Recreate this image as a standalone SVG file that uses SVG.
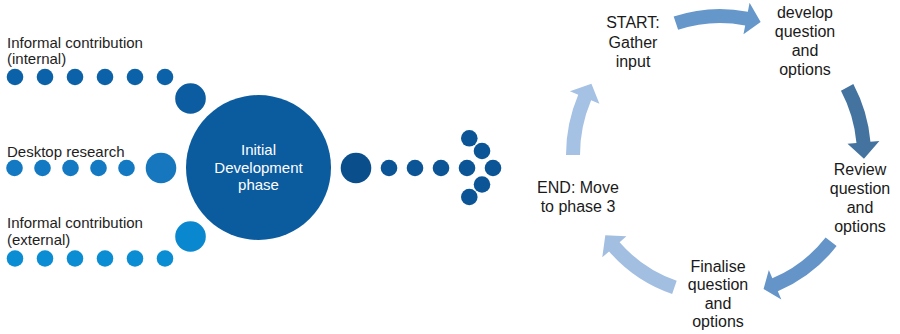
<svg xmlns="http://www.w3.org/2000/svg" width="900" height="334" viewBox="0 0 900 334">
<style>
.lbl{font-family:"Liberation Sans",Arial,sans-serif;font-size:15px;fill:#1e1e1e}
.ctr{font-family:"Liberation Sans",Arial,sans-serif;font-size:15px;fill:#ffffff;text-anchor:middle}
.cyc{font-family:"Liberation Sans",Arial,sans-serif;font-size:16px;fill:#1a1a1a;text-anchor:middle}
.r1{fill:#0c62a8}
.r2{fill:#1279c2}
.r3{fill:#0b8dd3}
.ar{fill:#0b5596}
</style>
<rect width="900" height="334" fill="#ffffff"/>
<g id="input-internal">
<text class="lbl" x="7" y="48">Informal contribution</text>
<text class="lbl" x="7" y="64">(internal)</text>
<circle class="r1" cx="15" cy="77" r="8.3"/>
<circle class="r1" cx="45" cy="77" r="8.3"/>
<circle class="r1" cx="75" cy="77" r="8.3"/>
<circle class="r1" cx="105" cy="77" r="8.3"/>
<circle class="r1" cx="135" cy="77" r="8.3"/>
<circle class="r1" cx="165" cy="77" r="8.3"/>
<circle fill="#0b5ca0" cx="190.5" cy="98.5" r="15.3"/>
</g>
<g id="input-desktop">
<text class="lbl" x="7" y="157">Desktop research</text>
<circle class="r2" cx="14.5" cy="168" r="8.3"/>
<circle class="r2" cx="42.5" cy="168" r="8.3"/>
<circle class="r2" cx="70.5" cy="168" r="8.3"/>
<circle class="r2" cx="98.5" cy="168" r="8.3"/>
<circle class="r2" cx="126.5" cy="168" r="8.3"/>
<circle fill="#1677be" cx="161" cy="168" r="15.3"/>
</g>
<g id="input-external">
<text class="lbl" x="7" y="228">Informal contribution</text>
<text class="lbl" x="7" y="245">(external)</text>
<circle class="r3" cx="15" cy="258.5" r="8.3"/>
<circle class="r3" cx="45" cy="258.5" r="8.3"/>
<circle class="r3" cx="75" cy="258.5" r="8.3"/>
<circle class="r3" cx="105" cy="258.5" r="8.3"/>
<circle class="r3" cx="135" cy="258.5" r="8.3"/>
<circle class="r3" cx="165" cy="258.5" r="8.3"/>
<circle fill="#0a88cf" cx="190.5" cy="236.5" r="15.3"/>
</g>
<g id="initial-development">
<circle fill="#0b5b9f" cx="258.5" cy="167.5" r="72.5"/>
<text class="ctr" x="258.5" y="155">Initial</text>
<text class="ctr" x="258.5" y="173">Development</text>
<text class="ctr" x="258.5" y="190">phase</text>
</g>
<g id="output-arrow">
<circle fill="#0a4f8b" cx="356" cy="168" r="15.3"/>
<circle class="ar" cx="389" cy="168" r="8.3"/>
<circle class="ar" cx="415" cy="168" r="8.3"/>
<circle class="ar" cx="441" cy="168" r="8.3"/>
<circle class="ar" cx="467" cy="168" r="8.3"/>
<circle class="ar" cx="493" cy="168" r="8.3"/>
<circle class="ar" cx="469.3" cy="138.3" r="8.3"/>
<circle class="ar" cx="482" cy="151" r="8.3"/>
<circle class="ar" cx="482" cy="184.5" r="8.3"/>
<circle class="ar" cx="469.3" cy="197" r="8.3"/>
</g>
<g id="cycle-connectors">
<path fill="#6697cb" d="M673.67,16.55 A146,146 0 0,1 747.86,11.69 L749.57,2.85 L760.64,22.07 L743.47,34.26 L745.19,25.43 A132,132 0 0,0 678.12,29.82 Z"/>
<path fill="#44739f" d="M853.32,84.1 A151,151 0 0,1 870.43,141.84 L879.39,141.05 L863.95,158.77 L847.51,143.84 L856.48,143.06 A137,137 0 0,0 840.96,90.68 Z"/>
<path fill="#6594c8" d="M836.62,246.12 A148,148 0 0,1 777.82,291.23 L781.34,299.52 L763.57,289.10 L768.84,270.06 L772.35,278.35 A134,134 0 0,0 825.59,237.50 Z"/>
<path fill="#a2bfe2" d="M672.14,293.99 A147,147 0 0,1 609.06,251.45 L602.27,257.35 L605.31,235.30 L626.42,236.36 L619.62,242.26 A133,133 0 0,0 676.70,280.75 Z"/>
<path fill="#a5c1e4" d="M566,155 A154,154 0 0,1 578.24,94.83 L569.96,91.32 L591.43,83.73 L599.41,103.82 L591.13,100.30 A140,140 0 0,0 580,155 Z"/>
</g>
<g id="start">
<text class="cyc" x="633" y="28">START:</text>
<text class="cyc" x="633" y="48">Gather</text>
<text class="cyc" x="633" y="67">input</text>
</g>
<g id="develop">
<text class="cyc" x="805" y="18">develop</text>
<text class="cyc" x="805" y="37">question</text>
<text class="cyc" x="805" y="56">and</text>
<text class="cyc" x="805" y="75">options</text>
</g>
<g id="review">
<text class="cyc" x="860" y="175">Review</text>
<text class="cyc" x="860" y="194">question</text>
<text class="cyc" x="860" y="213">and</text>
<text class="cyc" x="860" y="232">options</text>
</g>
<g id="finalise">
<text class="cyc" x="718" y="272">Finalise</text>
<text class="cyc" x="718" y="290">question</text>
<text class="cyc" x="718" y="309">and</text>
<text class="cyc" x="718" y="327">options</text>
</g>
<g id="end">
<text class="cyc" x="578" y="193">END: Move</text>
<text class="cyc" x="578" y="212">to phase 3</text>
</g>
</svg>
